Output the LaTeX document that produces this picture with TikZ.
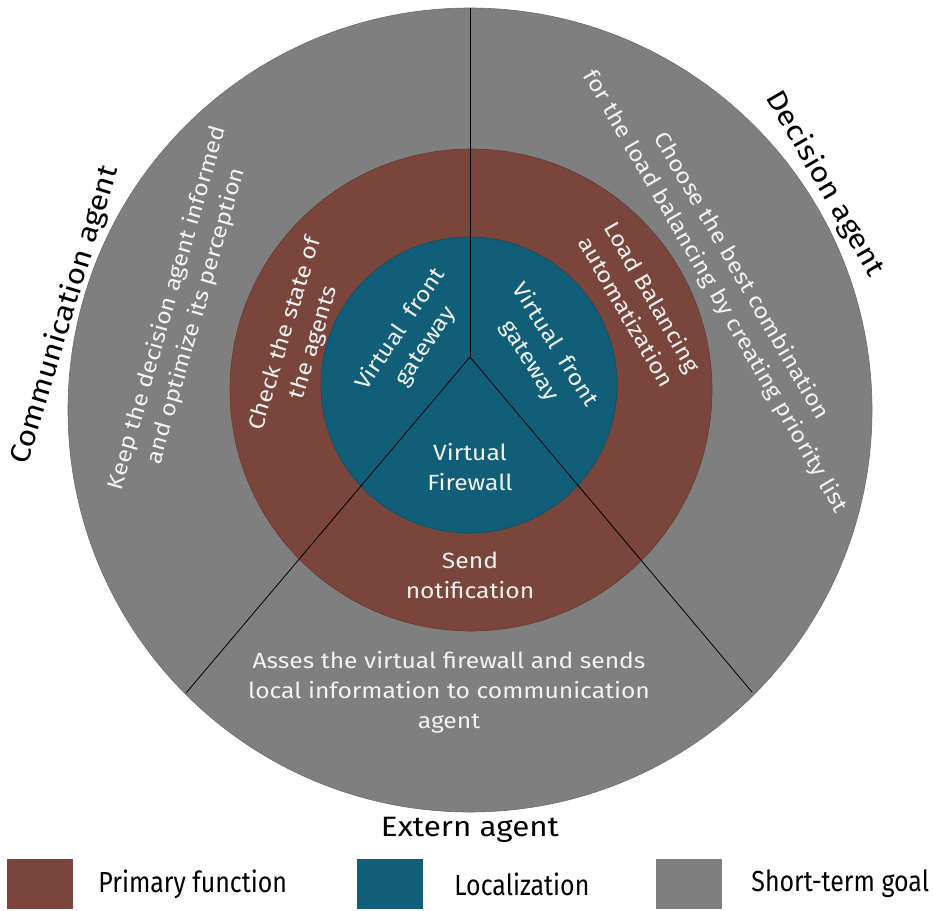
\documentclass[tikz,border=0pt]{standalone}
\usepackage{fontspec}
\setmainfont{Fira Sans}[FakeStretch=1.12]
\newfontfamily\narrowfont{Fira Sans}[FakeStretch=0.86]
\usetikzlibrary{positioning}
\definecolor{primbrown}{HTML}{7A453B}
\definecolor{locteal}{HTML}{105E78}
\definecolor{goalgrey}{HTML}{7F7F7F}

\begin{document}
\begin{tikzpicture}[
        x=1pt, y=1pt,
        every node/.style={inner sep=0pt, align=center},
        ringtext/.style={font=\fontsize{22}{30}\selectfont, text=white!95!black},
        agentlabel/.style={font=\fontsize{28}{32}\selectfont, text=black},
        keybox/.style={rectangle, minimum width=66pt, minimum height=50pt},
        keytext/.style={font=\narrowfont\fontsize{29}{30}\selectfont, text=black},
        divider/.style={line width=0.8pt, black},
    ]
    \useasboundingbox (0,0) rectangle (933,-910);
    \fill[goalgrey, draw=goalgrey!85!black, line width=0.6pt] (470,-410) circle (402);
    \fill[primbrown, draw=primbrown!85!black, line width=0.6pt] (471,-390) circle (241);
    \fill[locteal, draw=locteal!85!black, line width=0.6pt] (469,-385) circle (148);

    \coordinate (hub) at (470,-357);
    \coordinate (topend) at (470,-8);
    \coordinate (leftend) at (186,-693);
    \coordinate (rightend) at (752,-692);
    \draw[divider] (hub) -- (topend);
    \draw[divider] (hub) -- (leftend);
    \draw[divider] (hub) -- (rightend);

    \node[ringtext, rotate=74] (commgoal) at (182,-312) {Keep the decision agent informed\\and optimize its perception};
    \node[ringtext, rotate=-60] (decgoal) at (728,-284) {Choose the best combination\\for the load balancing by creating priority list};
    \node[ringtext] (extgoal) at (449,-692) {Asses the virtual firewall and sends\\local information to communication\\agent};

    \node[ringtext, rotate=73] (checkfn) at (300,-338) {Check the state of\\the agents};
    \node[ringtext, rotate=-60] (loadfn) at (640,-304) {Load Balancing\\automatization};
    \node[ringtext] (sendfn) at (470,-575) {Send\\notification};

    \node[ringtext, rotate=56] (gateleft) at (413,-338) {Virtual\ \ front\\gateway};
    \node[ringtext, rotate=-58] (gateright) at (542,-353) {Virtual\ \ front\\gateway};
    \node[ringtext] (firewall) at (470,-467) {Virtual\\Firewall};

    \node[agentlabel, rotate=73] (commagent) at (65,-315) {Communication agent};
    \node[agentlabel, rotate=-60] (decagent) at (825,-184) {Decision agent};
    \node[agentlabel] (extagent) at (470,-830) {Extern agent};

    \node[keybox, fill=primbrown] (keyprim) at (40,-884) {};
    \node[keytext, right=25pt of keyprim] (txtprim) {Primary function};
    \node[keybox, fill=locteal] (keyloc) at (390,-884) {};
    \node[keytext, right=31pt of keyloc] (txtloc) {Localization};
    \node[keybox, fill=goalgrey] (keygoal) at (689,-884) {};
    \node[keytext, right=29pt of keygoal] (txtgoal) {Short-term goal};
\end{tikzpicture}
\end{document}
